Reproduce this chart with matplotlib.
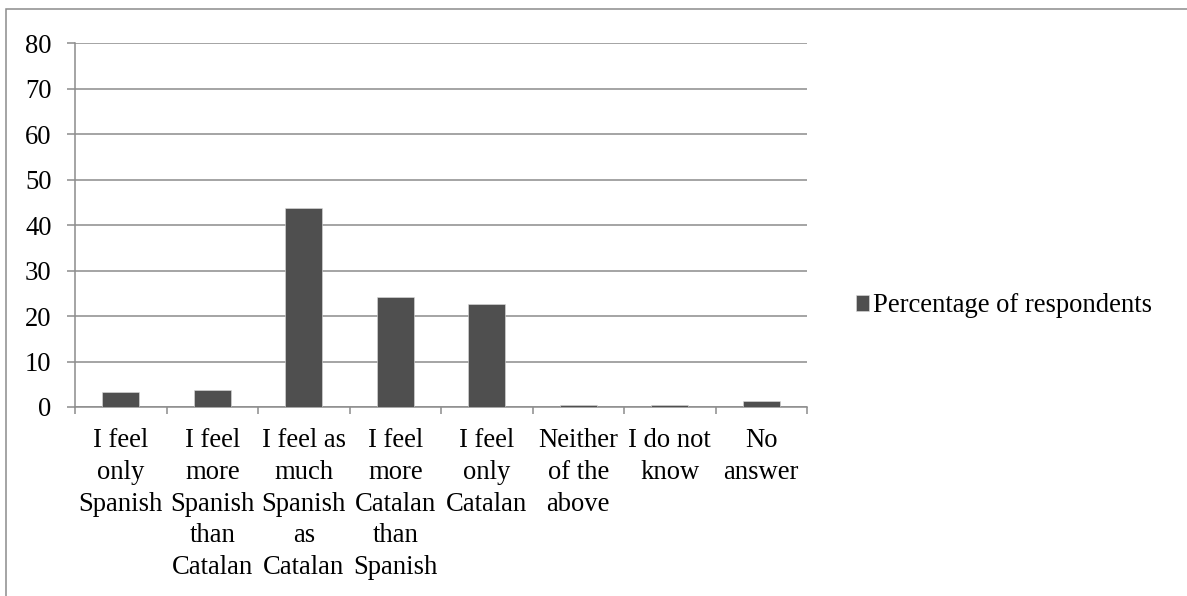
import matplotlib
matplotlib.use('Agg')
import matplotlib.pyplot as plt
from matplotlib.patches import Rectangle

# categories and survey values (% of respondents)
categories = ["I feel\nonly\nSpanish", "I feel\nmore\nSpanish\nthan\nCatalan",
              "I feel as\nmuch\nSpanish\nas\nCatalan", "I feel\nmore\nCatalan\nthan\nSpanish",
              "I feel\nonly\nCatalan", "Neither\nof the\nabove", "I do not\nknow", "No\nanswer"]
values = [3.2, 3.8, 43.7, 24.2, 22.7, 0.4, 0.4, 1.4]
yticks = [0, 10, 20, 30, 40, 50, 60, 70, 80]
series_name = "Percentage of respondents"

plt.rcParams['font.family'] = ['Liberation Serif', 'DejaVu Serif']
plt.rcParams['font.size'] = 19.2

grey = '#8c8c8c'
fig = plt.figure(figsize=(11.87, 5.96), dpi=100)
ax = fig.add_axes([75/1187, 1-407/596, (807-75)/1187, (407-43.3)/596])

x = list(range(len(categories)))
ax.bar(x, values, width=0.4, color='#4f4f4f', edgecolor='#dddddd', linewidth=0.4,
       label=series_name, zorder=3)

ax.set_xlim(-0.5, len(categories) - 0.5)
ax.set_ylim(0, 80)
ax.set_yticks(yticks)
ax.yaxis.grid(True, color=grey, linewidth=1.1, zorder=0)
ax.set_axisbelow(True)

# category boundaries as x ticks
ax.set_xticks([i - 0.5 for i in range(len(categories) + 1)], minor=False)
ax.set_xticklabels([])
ax.set_xticks(x, minor=True)
ax.set_xticklabels(categories, minor=True, linespacing=1.36)
ax.tick_params(axis='x', which='major', length=5, width=1.1, color=grey, direction='out')
ax.tick_params(axis='x', which='minor', length=0, pad=15)
ax.tick_params(axis='y', length=5.8, width=1.1, color=grey, pad=11)

for s in ['top', 'right']:
    ax.spines[s].set_visible(False)
for s in ['left', 'bottom']:
    ax.spines[s].set_color(grey)
    ax.spines[s].set_linewidth(1.1)

fig.legend(loc='center left', bbox_to_anchor=(856/1187, 1-306/596), frameon=False,
           handlelength=0.5, handleheight=0.5, handletextpad=0.15, borderpad=0,
           borderaxespad=0)

# outer chart border
fig.patches.append(Rectangle((6/1187, -0.1), 1.2, 1 - 9/596 + 0.1, transform=fig.transFigure,
                             fill=False, edgecolor=grey, linewidth=1.1))

fig.savefig('out.png', dpi=100)
